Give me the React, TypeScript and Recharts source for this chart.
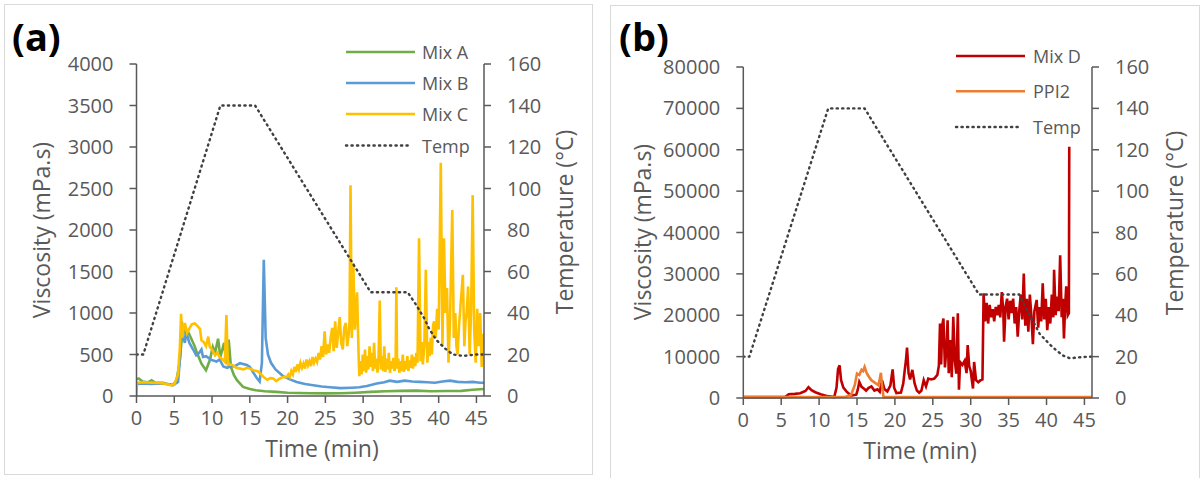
import React from 'react';
import { LineChart, Line, XAxis, YAxis } from 'recharts';

const FONT = '"Open Sans", "Noto Sans", sans-serif';
const GRAY = '#595959';

const timeTicks = [0, 5, 10, 15, 20, 25, 30, 35, 40, 45];
const viscTicksA = [0, 500, 1000, 1500, 2000, 2500, 3000, 3500, 4000];
const viscTicksB = [0, 10000, 20000, 30000, 40000, 50000, 60000, 70000, 80000];
const tempTicks = [0, 20, 40, 60, 80, 100, 120, 140, 160];

// ---- Panel (a) ----
const mixATime = [0, 0.3, 0.8, 1.5, 2, 2.5, 3.5, 4.3, 4.8, 5.3, 5.7, 6.0, 6.3, 6.6, 6.9, 7.3, 7.7, 8.0, 8.6, 9.2, 9.7, 10.1, 10.4, 10.8, 11.1, 11.6, 11.9, 12.2, 12.5, 12.9, 13.3, 14.1, 15, 15.8, 17, 18.5, 20, 21.5, 23, 25, 27, 29, 31, 33, 35, 37, 39, 41, 43, 44.5, 46];
const mixAVisc = [200, 210, 175, 165, 190, 160, 160, 140, 130, 190, 400, 700, 800, 740, 760, 680, 600, 520, 390, 310, 430, 590, 520, 690, 470, 640, 390, 680, 350, 250, 190, 110, 85, 70, 58, 50, 40, 36, 33, 32, 34, 40, 50, 58, 62, 65, 58, 60, 62, 75, 85];

const mixBTime = [0, 0.1, 1, 2, 3, 4, 4.9, 5.5, 5.8, 6.0, 6.2, 6.4, 6.6, 7.0, 7.5, 7.9, 8.3, 8.6, 8.8, 9.2, 9.9, 10.6, 11.0, 11.5, 12.0, 12.4, 13.0, 13.7, 14.6, 15.0, 15.4, 15.9, 16.3, 16.6, 16.85, 17.1, 17.4, 17.8, 18.4, 19.4, 20.3, 21.2, 22.3, 23.4, 24.5, 25.6, 27, 28.5, 29.5, 30.5, 31.8, 32.8, 33.5, 34.5, 35.5, 36.5, 37.5, 38.5, 39.5, 40.5, 41.5, 42.5, 43.5, 44.5, 45.5, 46];
const mixBVisc = [140, 145, 150, 145, 150, 145, 135, 170, 500, 900, 720, 640, 760, 640, 560, 490, 520, 560, 470, 480, 435, 415, 440, 355, 340, 355, 360, 395, 375, 350, 290, 220, 175, 400, 1640, 700, 500, 400, 320, 240, 200, 170, 145, 130, 115, 105, 95, 100, 105, 120, 150, 165, 185, 170, 185, 175, 170, 165, 160, 175, 185, 170, 165, 170, 160, 160];

const mixCTime = [0, 0.05, 1, 2, 3, 4, 4.5, 5.0, 5.5, 5.75, 5.9, 6.05, 6.2, 6.4, 6.7, 7.0, 7.3, 7.7, 8.0, 8.4, 8.6, 8.9, 9.2, 9.5, 9.7, 10.0, 10.4, 10.7, 11.0, 11.4, 11.7, 11.9, 12.1, 12.5, 12.8, 13.2, 13.7, 14.2, 14.6, 15.0, 15.5, 16.1, 16.5, 16.8, 17.3, 17.7, 18.1, 18.5, 18.8, 19.3,
  19.9, 20.1, 20.3, 20.5, 20.7, 20.9, 21.1, 21.3, 21.5, 21.7, 21.9, 22.1, 22.3, 22.5, 22.7, 22.9, 23.1, 23.3, 23.5, 23.7, 23.9, 24.1, 24.3, 24.5, 24.7, 24.9, 25.1, 25.3, 25.5, 25.7, 25.9, 26.1, 26.3, 26.5, 26.7, 26.9, 27.1, 27.3, 27.5, 27.7, 27.9, 28.1, 28.2,
  28.33, 28.5, 28.7, 28.9, 29.2, 29.4,
  29.5, 29.65, 29.8, 29.95, 30.1, 30.25, 30.4, 30.55, 30.7, 30.85, 31.0, 31.15, 31.3, 31.45, 31.6, 31.75, 31.9, 32.05, 32.2, 32.35, 32.5, 32.65, 32.8, 32.95, 33.1, 33.25, 33.4, 33.55, 33.7, 33.85, 34.0, 34.15, 34.3, 34.4, 34.5, 34.65, 34.8, 34.95, 35.1, 35.25, 35.4, 35.55, 35.7, 35.85, 36.0, 36.15, 36.3, 36.45, 36.6, 36.75, 36.9, 37.05, 37.2,
  37.4, 37.6, 37.75, 37.9, 38.1, 38.3, 38.5, 38.65, 38.8, 38.95, 39.1, 39.25, 39.4, 39.6, 39.8, 40.0, 40.28, 40.5, 40.7, 40.9, 41.1, 41.3, 41.5, 41.8, 42.0, 42.2, 42.35, 42.5, 42.7, 42.9, 43.2, 43.4, 43.55, 43.7, 43.9, 44.1, 44.3, 44.5, 44.7, 44.9, 45.1, 45.3, 45.5, 45.7, 45.9, 46];
const mixCVisc = [0, 160, 165, 160, 158, 145, 130, 140, 260, 600, 990, 700, 790, 880, 760, 815, 860, 875, 850, 810, 670, 650, 600, 715, 590, 560, 490, 520, 470, 440, 410, 975, 375, 380, 370, 340, 330, 320, 340, 330, 310, 295, 260, 230, 195, 215, 210, 180, 200, 225,
  230, 260, 230, 300, 260, 350, 290, 380, 320, 400, 340, 390, 330, 440, 370, 420, 360, 470, 400, 450, 410, 520, 440, 600, 470, 780, 500, 620, 520, 700, 820, 540, 900, 580, 760, 950, 640, 560, 820, 880, 600, 750, 900,
  2540, 700, 1600, 800, 1250, 500,
  240, 420, 260, 500, 300, 560, 280, 480, 320, 600, 350, 520, 300, 640, 330, 450, 280, 500, 1150, 320, 480, 300, 600, 290, 450, 320, 520, 280, 420, 330, 460, 300, 380, 1310, 330, 450, 280, 420, 300, 500, 290, 420, 320, 480, 300, 430, 340, 500, 330, 470, 360, 520, 400,
  1900, 420, 650, 380, 600, 1520, 400, 650, 480, 700, 500, 850, 900, 700, 1050, 800, 2810, 600, 1900, 1000, 1300, 400, 900, 2240, 700, 1000, 600, 500, 850, 1100, 1460, 600, 900, 1000, 1320, 500, 1050, 2420, 800, 400, 1050, 600, 1000, 350, 750, 650];

const tempATime = [0, 0.9, 11.1, 15.7, 31.0, 35.9, 37.0, 38.0, 38.8, 39.7, 40.8, 41.9, 43.2, 45.0, 46];
const tempAVal = [20, 20, 140, 140, 50, 50, 44, 38, 32, 27, 23, 20, 19.3, 20, 20];

// ---- Panel (b) ----
const mixDTime = [0, 2, 4, 5.5, 6.0, 6.8, 7.5, 8.2, 8.6, 9.0, 9.5, 10.2, 11.1, 12.0, 12.3, 12.5, 12.7, 12.9, 13.2, 13.6, 14.2, 14.9, 15.1, 15.3, 15.6, 15.9, 16.2, 16.5, 16.9, 17.3, 17.7, 18.0, 18.3, 18.6, 19.0, 19.4, 19.7, 19.9, 20.2, 20.8, 21.1, 21.3, 21.45, 21.6, 21.8, 22.0, 22.3, 22.6, 22.9, 23.2, 23.5, 23.8, 24.1, 24.4, 24.8, 25.2, 25.6, 25.8, 25.95, 26.1, 26.25, 26.4, 26.6, 26.8, 26.95, 27.1, 27.3, 27.5, 27.7, 27.9, 28.1, 28.3, 28.45, 28.6, 28.9, 29.2, 29.45, 29.6, 29.8, 30.0, 30.3, 30.45, 30.7, 31.0, 31.3, 31.55, 31.7, 31.9, 32.1, 32.3, 32.5, 32.7, 32.9, 33.1, 33.3, 33.5, 33.7, 33.9, 34.1, 34.3, 34.4, 34.6, 34.8, 35.0, 35.2, 35.4, 35.6, 35.8, 36.0, 36.2, 36.4, 36.6, 36.8, 37.0, 37.2, 37.4, 37.6, 37.8, 38.0, 38.2, 38.4, 38.7, 38.9, 39.1, 39.3, 39.5, 39.7, 39.9, 40.1, 40.3, 40.5, 40.7, 40.9, 41.0, 41.2, 41.4, 41.6, 41.8, 42.0, 42.15, 42.3, 42.45, 42.6, 42.8, 42.95, 43.0];
const mixDVisc = [200, 200, 200, 250, 900, 1000, 1150, 1700, 2600, 1900, 1400, 900, 450, 250, 2500, 7000, 7900, 4300, 2500, 1600, 600, 800, 2000, 3900, 2700, 2300, 1800, 2400, 2800, 1800, 2100, 1500, 4300, 2200, 1600, 3000, 6900, 2500, 1200, 1300, 3500, 6800, 9000, 12200, 6000, 4500, 6800, 3500, 1800, 1300, 1800, 4300, 2800, 4700, 4500, 4700, 5600, 7800, 18000, 8100, 17500, 19200, 7400, 12000, 18800, 6000, 14000, 5000, 19600, 9000, 5900, 20500, 2000, 8700, 8000, 9000, 6000, 12800, 7700, 6500, 2300, 8700, 4300, 3800, 4300, 4500, 25300, 18500, 23000, 18000, 22500, 19500, 21500, 18500, 22000, 20000, 22500, 19500, 25600, 21000, 13600, 22000, 24000, 19000, 23500, 20500, 24000, 18000, 22000, 14800, 21000, 25000, 19000, 30100, 17500, 24000, 16000, 25000, 20000, 13000, 21000, 23700, 17000, 22000, 18500, 27700, 19000, 24000, 16400, 22000, 18000, 25000, 19500, 31000, 20000, 24500, 21000, 34500, 19500, 24000, 14400, 22000, 27000, 20000, 20500, 60700];

const ppi2Time = [0, 5, 6, 8, 10, 12, 13.5, 14.2, 14.7, 15.0, 15.3, 15.6, 15.8, 16.0, 16.2, 16.4, 16.7, 16.9, 17.2, 17.5, 17.8, 18.0, 18.15, 18.3, 18.5, 20, 25, 30, 35, 40, 46];
const ppi2Visc = [200, 200, 250, 250, 250, 250, 300, 700, 3100, 5900, 5600, 6800, 6500, 7500, 6400, 5600, 4800, 4300, 3900, 3500, 3100, 4500, 6100, 3000, 200, 200, 200, 200, 200, 200, 200];

const tempBTime = [0, 0.8, 11.2, 16.0, 31.1, 36.4, 37.8, 39.1, 40.4, 41.3, 42.2, 43.1, 44.8, 46];
const tempBVal = [20, 20, 140, 140, 50, 50, 40, 31, 26, 23, 20.5, 19.2, 19.8, 20];

const zip = (ts: number[], vs: number[]) => ts.map((t, i) => ({ t, v: vs[i] }));

const axisStyle = { stroke: GRAY, strokeWidth: 1.5 };
const tickStyle = { fill: GRAY, fontSize: 20, fontFamily: FONT };
const DOTS = '1.2 4.3';

type Series = { name: string; data: { t: number; v: number }[]; color: string; axis: 'left' | 'right'; dotted?: boolean };

function Panel(props: {
  left: number; width: number; margin: { top: number; left: number; right: number; bottom: number };
  leftW: number; rightW: number; xH: number;
  viscMax: number; viscTicks: number[]; series: Series[];
  viscTitle: { x: number; y: number }; tempTitle: { x: number; y: number }; timeTitle: { x: number; y: number };
}) {
  const { left, width, margin, leftW, rightW, xH, viscMax, viscTicks, series, viscTitle, tempTitle, timeTitle } = props;
  const titleStyle = { fill: GRAY, fontSize: 23, fontFamily: FONT };
  return (
    <div style={{ position: 'absolute', left, top: 0, width, height: 478 }}>
      <LineChart width={width} height={478} margin={margin}>
        <XAxis
          dataKey="t" type="number" domain={[0, 46]} ticks={timeTicks} interval={0}
          allowDataOverflow height={xH} axisLine={axisStyle} tickLine={axisStyle}
          tickSize={7} tickMargin={8} tick={tickStyle}
          label={() => (
            <text x={timeTitle.x} y={timeTitle.y} textAnchor="middle" dominantBaseline="central" style={titleStyle}>Time (min)</text>
          )}
        />
        <YAxis
          yAxisId="left" orientation="left" domain={[0, viscMax]} ticks={viscTicks} interval={0}
          width={leftW} axisLine={axisStyle} tickLine={axisStyle} tickSize={7} tickMargin={16} tick={tickStyle}
          allowDecimals={false}
          label={() => (
            <text x={viscTitle.x} y={viscTitle.y} textAnchor="middle" dominantBaseline="central"
              transform={`rotate(-90 ${viscTitle.x} ${viscTitle.y})`} style={titleStyle}>Viscosity (mPa.s)</text>
          )}
        />
        <YAxis
          yAxisId="right" orientation="right" domain={[0, 160]} ticks={tempTicks} interval={0}
          width={rightW} axisLine={axisStyle} tickLine={axisStyle} tickSize={7} tickMargin={16} tick={tickStyle}
          label={() => (
            <text x={tempTitle.x} y={tempTitle.y} textAnchor="middle" dominantBaseline="central"
              transform={`rotate(-90 ${tempTitle.x} ${tempTitle.y})`} style={titleStyle}>Temperature (°C)</text>
          )}
        />
        {series.map((s) => (
          <Line
            key={s.name} data={s.data} dataKey="v" name={s.name} yAxisId={s.axis} type="linear"
            stroke={s.color} strokeWidth={s.dotted ? 2.4 : 2.6} dot={false} activeDot={false}
            strokeDasharray={s.dotted ? DOTS : undefined} strokeLinecap={s.dotted ? 'round' : 'butt'}
            isAnimationActive={false}
          />
        ))}
      </LineChart>
    </div>
  );
}

function LegendBox(props: { x: number; rows: number[]; lineEnd: number; dotEnd: number; textX: number; series: Series[] }) {
  const { x, rows, lineEnd, dotEnd, textX, series } = props;
  return (
    <svg style={{ position: 'absolute', left: 0, top: 0 }} width={1201} height={478}>
      {series.map((s, i) => (
        <g key={s.name}>
          <line x1={x} x2={s.dotted ? dotEnd : lineEnd} y1={rows[i]} y2={rows[i]} stroke={s.color}
            strokeWidth={s.dotted ? 2.4 : 2.6} strokeDasharray={s.dotted ? DOTS : undefined}
            strokeLinecap={s.dotted ? 'round' : 'butt'} />
          <text x={textX} y={rows[i]} dominantBaseline="central" style={{ fill: GRAY, fontSize: 18, fontFamily: FONT }}>{s.name}</text>
        </g>
      ))}
    </svg>
  );
}

export default function App() {
  const seriesA: Series[] = [
    { name: 'Mix A', data: zip(mixATime, mixAVisc), color: '#70AD47', axis: 'left' },
    { name: 'Mix B', data: zip(mixBTime, mixBVisc), color: '#5B9BD5', axis: 'left' },
    { name: 'Mix C', data: zip(mixCTime, mixCVisc), color: '#FFC000', axis: 'left' },
    { name: 'Temp', data: zip(tempATime, tempAVal), color: '#404040', axis: 'right', dotted: true },
  ];
  const seriesB: Series[] = [
    { name: 'Mix D', data: zip(mixDTime, mixDVisc), color: '#C00000', axis: 'left' },
    { name: 'PPI2', data: zip(ppi2Time, ppi2Visc), color: '#ED7D31', axis: 'left' },
    { name: 'Temp', data: zip(tempBTime, tempBVal), color: '#404040', axis: 'right', dotted: true },
  ];
  return (
    <div style={{ position: 'absolute', left: 0, top: 0, width: 1201, height: 478, background: '#fff', overflow: 'hidden' }}>
      <div style={{ position: 'absolute', left: 4, top: 4, width: 587, height: 469, border: '1.5px solid #d9d9d9' }} />
      <div style={{ position: 'absolute', left: 610, top: 5, width: 588, height: 480, border: '1.5px solid #d9d9d9' }} />
      <Panel
        left={0} width={600}
        margin={{ top: 64, left: 0, right: 0, bottom: 0 }}
        leftW={136.5} rightW={116} xH={82}
        viscMax={4000} viscTicks={viscTicksA} series={seriesA}
        viscTitle={{ x: 41, y: 230 }} tempTitle={{ x: 564, y: 222 }} timeTitle={{ x: 322, y: 448 }}
      />
      <Panel
        left={600} width={601}
        margin={{ top: 67, left: 0, right: 0, bottom: 0 }}
        leftW={143.3} rightW={109} xH={80}
        viscMax={80000} viscTicks={viscTicksB} series={seriesB}
        viscTitle={{ x: 42, y: 232 }} tempTitle={{ x: 574, y: 223 }} timeTitle={{ x: 320, y: 450 }}
      />
      <LegendBox x={346} rows={[52, 83, 114, 145.5]} lineEnd={415} dotEnd={409} textX={422} series={seriesA} />
      <LegendBox x={956} rows={[56, 91.3, 127]} lineEnd={1025} dotEnd={1019} textX={1033} series={seriesB} />
      <div style={{ position: 'absolute', left: 12, top: 10, fontFamily: FONT, fontWeight: 700, fontSize: 38, color: '#000', lineHeight: '52px' }}>(a)</div>
      <div style={{ position: 'absolute', left: 619, top: 10, fontFamily: FONT, fontWeight: 700, fontSize: 38, color: '#000', lineHeight: '52px' }}>(b)</div>
    </div>
  );
}
